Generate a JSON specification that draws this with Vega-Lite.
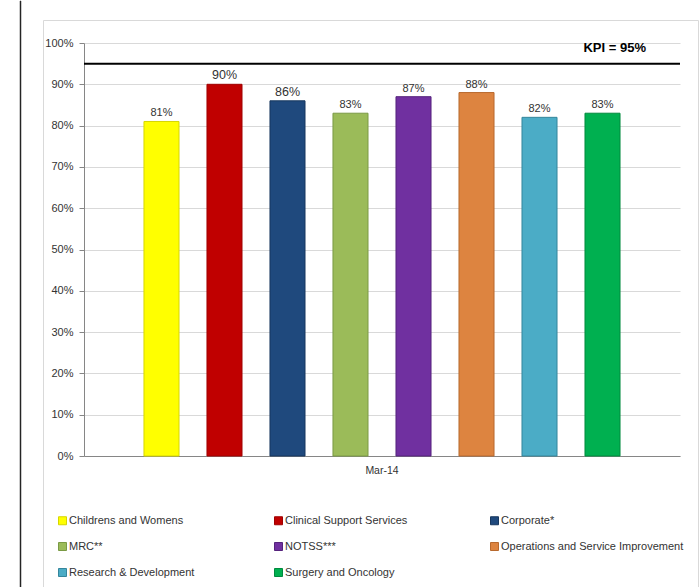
{
  "$schema": "https://vega.github.io/schema/vega-lite/v6.json",
  "background": "white",
  "padding": {"left": 19, "top": 0, "right": 0, "bottom": 0},
  "spacing": 20,
  "config": {
    "font": "Liberation Sans",
    "axis": {"labelColor": "#333333", "labelFont": "Liberation Sans", "titleColor": "#333333"},
    "legend": {"labelColor": "#333333", "labelFont": "Liberation Sans"}
  },
  "datasets": {
    "divisions": [
      {"month": "Mar-14", "division": "Childrens and Womens", "rate": 0.81},
      {"month": "Mar-14", "division": "Clinical Support Services", "rate": 0.90},
      {"month": "Mar-14", "division": "Corporate*", "rate": 0.86},
      {"month": "Mar-14", "division": "MRC**", "rate": 0.83},
      {"month": "Mar-14", "division": "NOTSS***", "rate": 0.87},
      {"month": "Mar-14", "division": "Operations and Service Improvement", "rate": 0.88},
      {"month": "Mar-14", "division": "Research & Development", "rate": 0.82},
      {"month": "Mar-14", "division": "Surgery and Oncology", "rate": 0.83}
    ],
    "target": [
      {"kpi": 0.95, "label": "KPI = 95%"}
    ]
  },
  "hconcat": [
    {
      "data": {"values": []},
      "mark": "rule",
      "encoding": {},
      "width": 1,
      "height": 587,
      "view": {"fill": "#262626", "stroke": "#262626", "strokeWidth": 0.5}
    },
    {
      "spacing": 17,
      "vconcat": [
        {
          "data": {"values": []},
          "mark": "rule",
          "encoding": {},
          "width": 655,
          "height": 1,
          "view": {"stroke": null}
        },
        {
          "width": 655,
          "height": 575,
          "view": {"stroke": "#D9D9D9", "strokeWidth": 1},
          "layer": [
            {
              "data": {"name": "divisions"},
              "encoding": {
                "x": {
                  "field": "month",
                  "type": "nominal",
                  "scale": {"range": [41, 637], "paddingInner": 0, "paddingOuter": 0},
                  "axis": {
                    "title": null,
                    "orient": "bottom",
                    "offset": -139,
                    "ticks": false,
                    "grid": false,
                    "labelAngle": 0,
                    "labelPadding": 9,
                    "labelFontSize": 10.5,
                    "domainColor": "#868686"
                  }
                },
                "xOffset": {
                  "field": "division",
                  "type": "nominal",
                  "sort": null,
                  "scale": {"paddingInner": 0.444, "paddingOuter": 0.952}
                },
                "y": {
                  "field": "rate",
                  "type": "quantitative",
                  "scale": {"domain": [0, 1], "range": [436, 23], "nice": false},
                  "axis": {
                    "title": null,
                    "offset": -41,
                    "format": ".0%",
                    "values": [0, 0.1, 0.2, 0.3, 0.4, 0.5, 0.6, 0.7, 0.8, 0.9, 1],
                    "labelFontSize": 11,
                    "labelPadding": 6,
                    "tickSize": 5,
                    "tickColor": "#868686",
                    "domainColor": "#868686",
                    "gridColor": "#D9D9D9"
                  }
                }
              },
              "layer": [
                {
                  "mark": {"type": "bar", "strokeWidth": 1},
                  "encoding": {
                    "fill": {
                      "field": "division",
                      "type": "nominal",
                      "scale": {
                        "domain": ["Childrens and Womens", "Clinical Support Services", "Corporate*", "MRC**", "NOTSS***", "Operations and Service Improvement", "Research & Development", "Surgery and Oncology"],
                        "range": ["#FFFF00", "#C00000", "#1F497D", "#9BBB59", "#7030A0", "#DD8440", "#4BACC6", "#00B050"]
                      },
                      "legend": {
                        "orient": "none",
                        "direction": "horizontal",
                        "legendX": 37,
                        "legendY": 514,
                        "columns": 3,
                        "title": null,
                        "symbolType": "square",
                        "symbolSize": 64,
                        "symbolStrokeWidth": 1,
                        "labelFontSize": 11,
                        "labelOffset": 1,
                        "labelLimit": 300,
                        "columnPadding": 20,
                        "rowPadding": 13,
                        "gridAlign": "all"
                      }
                    },
                    "stroke": {
                      "field": "division",
                      "type": "nominal",
                      "scale": {
                        "domain": ["Childrens and Womens", "Clinical Support Services", "Corporate*", "MRC**", "NOTSS***", "Operations and Service Improvement", "Research & Development", "Surgery and Oncology"],
                        "range": ["#D6D600", "#A00000", "#17375E", "#7A9A44", "#55237C", "#B8692E", "#35869C", "#008A3E"]
                      }
                    }
                  }
                },
                {
                  "mark": {"type": "text", "baseline": "alphabetic", "dy": -5, "color": "#333333"},
                  "encoding": {
                    "text": {"field": "rate", "type": "quantitative", "format": ".0%"},
                    "size": {
                      "condition": {"test": "indexof(['Clinical Support Services', 'Corporate*'], datum.division) >= 0", "value": 12.5},
                      "value": 11
                    }
                  }
                }
              ]
            },
            {
              "data": {"name": "target"},
              "encoding": {
                "y": {"field": "kpi", "type": "quantitative", "scale": {"domain": [0, 1], "range": [436, 23], "nice": false}}
              },
              "layer": [
                {
                  "mark": {"type": "rule", "color": "#000000", "strokeWidth": 2},
                  "encoding": {
                    "x": {"datum": 0, "type": "quantitative", "scale": {"domain": [0, 1], "range": [41, 637]}, "axis": null},
                    "x2": {"datum": 1}
                  }
                },
                {
                  "mark": {"type": "text", "align": "right", "baseline": "alphabetic", "dx": -34, "dy": -12, "fontSize": 13, "fontWeight": "bold", "color": "#000000"},
                  "encoding": {
                    "x": {"datum": 1, "type": "quantitative", "scale": {"domain": [0, 1], "range": [41, 637]}, "axis": null},
                    "text": {"field": "label"}
                  }
                }
              ]
            }
          ],
          "resolve": {"scale": {"x": "independent"}, "axis": {"x": "independent"}}
        }
      ]
    }
  ]
}
